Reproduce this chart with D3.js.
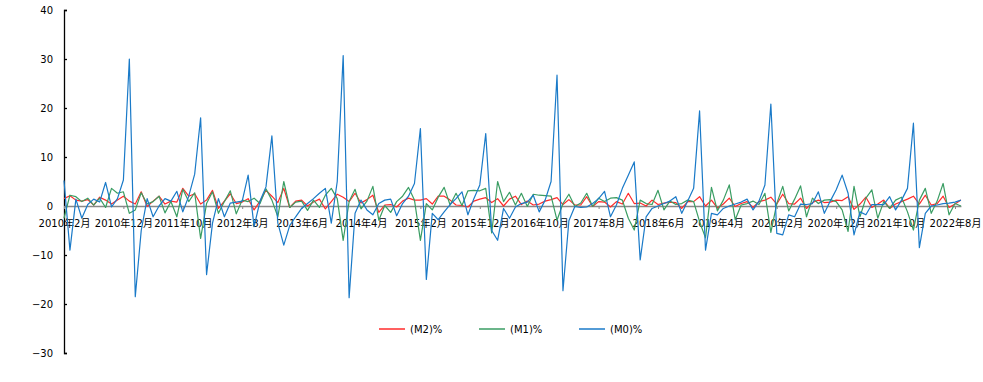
<!DOCTYPE html>
<html><head><meta charset="utf-8">
<script src="https://cdn.jsdelivr.net/npm/d3@7/dist/d3.min.js"></script>
<style>
body{margin:0;background:#fff;}
svg text{font-family:"DejaVu Sans","Noto Sans CJK SC",sans-serif;}
</style></head>
<body><svg id="chart" width="983" height="382"></svg>
<script>
// Categories: monthly from 2010-02 to 2022-09
const startYear = 2010, startMonth = 2, nPoints = 152;
const categories = [];
for (let k = 0; k < nPoints; k++) {
  const m = startMonth - 1 + k;
  categories.push((startYear + Math.floor(m / 12)) + "年" + (m % 12 + 1) + "月");
}
const tickLabels = ["2010年2月","2010年12月","2011年10月","2012年8月","2013年6月","2014年4月","2015年2月","2015年12月","2016年10月","2017年8月","2018年6月","2019年4月","2020年2月","2020年12月","2021年10月","2022年8月"];
const yTicks = [-30,-20,-10,0,10,20,30,40];
const seriesNames = ["(M2)%","(M1)%","(M0)%"];

const m2 = [1.5,2.1,1.2,1.0,1.3,0.2,1.8,1.2,0.4,1.2,
2.0,1.0,0.4,2.9,-0.1,1.0,2.0,0.4,1.0,0.8,
3.6,2.0,2.5,0.4,1.2,3.2,-0.5,1.0,2.5,0.5,
0.8,1.5,-0.8,1.0,3.2,2.0,0.7,3.6,-0.3,1.0,
1.2,0.0,0.8,1.4,-0.6,0.9,2.4,1.8,0.9,2.6,
0.6,1.3,2.2,-1.3,0.2,0.3,-0.2,1.0,1.6,1.2,
1.2,1.5,0.4,2.0,2.0,1.2,0.2,0.1,-0.2,1.0,
1.4,1.7,0.7,1.5,0.0,1.4,2.0,0.3,1.0,0.2,
0.4,1.0,1.3,1.7,0.3,1.3,0.2,0.2,1.9,-0.1,
0.9,0.8,-0.2,0.9,0.4,2.6,0.5,0.6,0.0,1.2,
0.3,0.6,0.8,0.7,-0.5,0.9,0.9,1.9,0.0,1.2,
-0.4,0.4,1.6,-0.1,0.5,0.9,-0.3,0.9,1.2,1.8,
0.4,2.4,0.5,0.4,1.6,-0.5,0.7,1.2,0.7,0.8,
1.2,1.1,1.9,-0.7,0.4,1.8,-0.3,0.4,1.2,-0.5,
0.4,0.9,1.4,2.0,0.4,2.2,0.2,0.5,2.0,-0.3,
0.4,1.2];

const m1 = [-2.5,2.2,1.9,0.9,1.6,0.2,1.6,-0.3,3.6,2.6,
2.9,-1.5,-0.8,2.7,0.4,0.9,2.0,-1.4,0.9,-2.2,
3.4,0.9,2.7,-6.6,0.5,2.9,-1.5,0.9,3.1,-1.6,
1.2,0.9,1.6,0.5,3.5,1.2,-2.2,5.0,-0.3,0.8,
1.0,-0.9,1.2,-0.3,2.2,3.6,1.5,-7.0,0.9,3.4,
-0.6,1.0,4.0,-2.9,0.1,-1.3,0.9,2.0,3.8,1.2,
-7.0,0.5,-0.8,1.8,3.8,0.2,2.6,0.1,3.1,3.2,
3.1,3.6,-5.5,5.0,0.9,2.8,0.2,2.6,-0.1,2.4,
2.2,2.1,2.0,-2.9,0.5,2.4,-0.1,0.6,2.6,-0.1,
1.6,0.9,1.6,1.7,1.2,-2.5,-4.9,1.2,0.5,0.3,
3.2,-0.8,1.0,0.3,0.5,1.2,0.9,-3.2,-6.5,3.8,
-1.0,1.2,4.3,-2.8,0.2,0.5,1.0,0.3,2.6,-5.4,
0.5,4.0,-1.0,1.4,4.1,-2.2,1.6,0.5,1.2,1.3,
0.9,-0.8,-5.2,4.0,-2.2,1.6,3.3,-2.5,0.9,-0.5,
1.2,1.8,-1.2,-4.9,1.2,3.6,-1.5,1.0,4.6,-1.8,
0.5,0.0];

const m0 = [5.2,-9.0,1.4,-2.5,0.3,1.4,0.8,4.8,-0.2,1.5,
5.3,30.0,-18.5,-5.0,1.5,-2.2,0.0,1.5,1.0,3.0,
-1.2,2.0,6.5,18.0,-14.0,-3.5,1.5,-2.2,0.6,0.8,
1.0,6.3,-4.2,1.0,3.9,14.3,-3.5,-8.0,-4.0,-2.2,
-0.5,0.5,1.5,2.6,3.6,-3.5,5.0,30.7,-18.7,-1.5,
1.2,-0.8,-1.8,0.5,1.2,1.4,-2.0,0.5,2.0,4.6,
15.8,-15.0,-1.5,-2.8,-1.2,0.3,1.5,2.9,-1.8,1.5,
4.3,14.8,-5.0,-7.0,-0.5,-2.5,-0.2,0.5,0.8,2.2,
-1.2,1.2,5.0,26.7,-17.3,-3.0,-0.1,-0.3,-0.2,0.5,
1.5,3.0,-2.2,0.2,3.6,6.3,9.0,-11.0,-2.2,-0.5,
0.0,0.5,1.0,1.9,-1.5,1.0,3.6,19.4,-9.0,-1.5,
-1.8,-0.5,0.0,0.4,0.8,1.4,-0.8,1.0,4.3,20.8,
-5.6,-5.9,-1.8,-2.2,0.4,0.3,0.5,2.9,-1.5,1.0,
3.3,6.3,2.6,-5.9,-1.2,-1.8,0.3,0.3,0.3,1.9,
-0.8,1.2,3.6,16.9,-8.5,-1.5,0.0,0.2,0.5,0.6,
0.8,1.2];

const colors = ["#ff2b2b","#3a9d63","#1a7ac8"];
const seriesData = [m2, m1, m0];

const svg = d3.select("#chart");
const x = d3.scalePoint().domain(categories).range([64, 64 + 5.94 * (nPoints - 1)]);
const y = d3.scaleLinear().domain([-30, 40]).range([353, 10]);

// Y axis
const yAxis = d3.axisRight(y).tickValues(yTicks).tickSize(3).tickFormat(d3.format("d"));
const yg = svg.append("g").attr("transform", "translate(64,0)").call(yAxis);
yg.select(".domain").attr("stroke", "#000").attr("stroke-width", 1.3);
yg.selectAll(".tick line").attr("stroke", "#000").attr("stroke-width", 1.3);
yg.selectAll(".tick text").attr("x", -11).attr("text-anchor", "end").attr("font-size", 10).attr("fill", "#000")
  .attr("font-family", "DejaVu Sans");

// X axis along zero
const tickCats = tickLabels;
const xAxis = d3.axisBottom(x).tickValues(tickCats).tickSize(3).tickSizeOuter(0);
const xg = svg.append("g").attr("transform", `translate(0,${y(0)})`).call(xAxis);
xg.select(".domain").attr("stroke", "#888").attr("stroke-width", 1.5);
xg.selectAll(".tick line").attr("stroke", "#888");
xg.selectAll(".tick text").attr("font-size", 10).attr("fill", "#000").attr("y", 14);

// Lines
const line = d3.line().x((d, i) => x(categories[i])).y(d => y(d));
seriesData.forEach((s, k) => {
  svg.append("path").datum(s).attr("d", line).attr("fill", "none")
    .attr("stroke", colors[k]).attr("stroke-width", 1.2).attr("stroke-linejoin", "round");
});

// Legend
const legendX = [379, 479, 579];
seriesNames.forEach((name, k) => {
  const g = svg.append("g").attr("transform", `translate(${legendX[k]},329)`);
  g.append("line").attr("x1", 0).attr("x2", 26).attr("y1", 0).attr("y2", 0)
    .attr("stroke", colors[k]).attr("stroke-width", 1.5);
  g.append("text").attr("x", 31).attr("y", 4).attr("font-size", 10)
    .attr("font-family", "Liberation Sans").attr("fill", "#000").text(name);
});
</script></body></html>
